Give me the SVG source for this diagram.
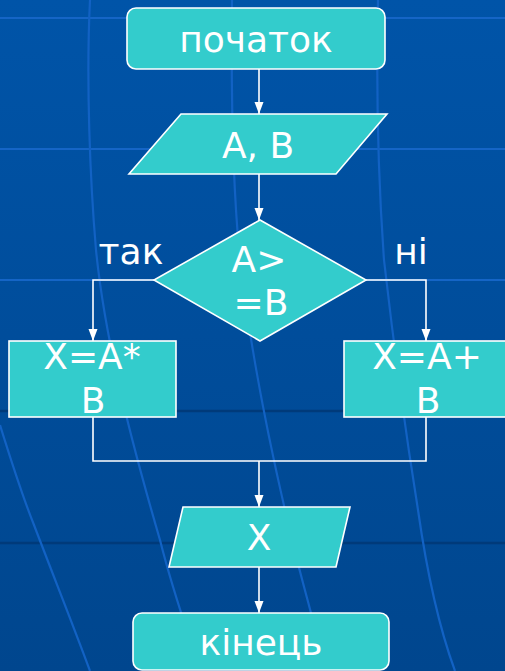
<svg xmlns="http://www.w3.org/2000/svg" width="505" height="671" viewBox="0 0 505 671">
  <style>
    .shape { fill: #33CCCC; stroke: #FFFFFF; stroke-width: 1.6; }
    .lbl { font-family: "DejaVu Sans", Verdana, sans-serif; font-size: 36px; fill: #FFFFFF; text-anchor: middle; }
    .wire { fill: none; stroke: #FFFFFF; stroke-width: 1.6; }
    .grid-light { stroke: #1565C6; stroke-width: 2; fill: none; }
    .grid-dark { stroke: #003A7A; stroke-width: 2.5; fill: none; }
    .curve { stroke: #1262C4; stroke-width: 2.2; fill: none; }
  </style>
  <defs>
    <linearGradient id="bg" x1="0" y1="0" x2="0" y2="1">
      <stop offset="0" stop-color="#0054A8"/>
      <stop offset="1" stop-color="#00468E"/>
    </linearGradient>
    <marker id="arrow" markerUnits="userSpaceOnUse" markerWidth="12" markerHeight="10" refX="12" refY="4.5" orient="auto">
      <path d="M0,0 L12,4.5 L0,9 z" fill="#FFFFFF"/>
    </marker>
  </defs>

  <!-- slide background -->
  <g id="background">
    <rect x="0" y="0" width="505" height="671" fill="url(#bg)"/>
    <line class="grid-light" x1="0" y1="18" x2="505" y2="18"/>
    <line class="grid-light" x1="0" y1="149" x2="505" y2="149"/>
    <line class="grid-light" x1="0" y1="280" x2="505" y2="280"/>
    <line class="grid-dark" x1="0" y1="411" x2="505" y2="411"/>
    <line class="grid-dark" x1="0" y1="543" x2="505" y2="543"/>
    <path class="curve" d="M90,0 C86,80 90,180 96,250 C104,330 125,420 160,540 C170,580 180,610 190,640"/>
    <path class="curve" d="M232,0 C231,90 233,190 240,260 C248,330 262,410 285,510 C296,560 308,600 318,640"/>
    <path class="curve" d="M378,0 C376,90 379,190 384,260 C392,330 402,410 418,510 C428,580 440,630 455,671"/>
    <path class="curve" d="M0,425 C14,470 24,500 34,525 C55,580 75,630 90,671"/>
  </g>

  <!-- connectors -->
  <g id="connectors">
    <path class="wire" d="M259,69 V114" marker-end="url(#arrow)"/>
    <path class="wire" d="M259,174 V220" marker-end="url(#arrow)"/>
    <path class="wire" d="M154,280 H93 V341" marker-end="url(#arrow)"/>
    <path class="wire" d="M366,280 H426 V341" marker-end="url(#arrow)"/>
    <path class="wire" d="M93,417 V461 H426 V417"/>
    <path class="wire" d="M259,461 V507" marker-end="url(#arrow)"/>
    <path class="wire" d="M259,567 V613" marker-end="url(#arrow)"/>
  </g>

  <g id="start">
    <rect class="shape" x="127" y="8" width="258" height="61" rx="9"/>
    <text class="lbl" x="256" y="52">початок</text>
  </g>

  <g id="input">
    <polygon class="shape" points="181,114 387,114 336,174 129,174"/>
    <text class="lbl" x="258" y="158">A, B</text>
  </g>

  <g id="decision">
    <polygon class="shape" points="260,220 366,280 260,341 154,280"/>
    <text class="lbl" x="259" y="272">A&gt;</text>
    <text class="lbl" x="261" y="315">=B</text>
  </g>

  <g id="label-yes">
    <text class="lbl" x="131" y="264">так</text>
  </g>
  <g id="label-no">
    <text class="lbl" x="411" y="264">ні</text>
  </g>

  <g id="mult">
    <rect class="shape" x="9" y="341" width="167" height="76"/>
    <text class="lbl" x="92" y="369">X=A*</text>
    <text class="lbl" x="93" y="413">B</text>
  </g>

  <g id="sum">
    <rect class="shape" x="344" y="341" width="170" height="76"/>
    <text class="lbl" x="427" y="369">X=A+</text>
    <text class="lbl" x="428" y="413">B</text>
  </g>

  <g id="output">
    <polygon class="shape" points="183,507 350,507 336,567 169,567"/>
    <text class="lbl" x="259" y="550">X</text>
  </g>

  <g id="end">
    <rect class="shape" x="133" y="613" width="256" height="57" rx="9"/>
    <text class="lbl" x="261" y="655">кінець</text>
  </g>
</svg>
